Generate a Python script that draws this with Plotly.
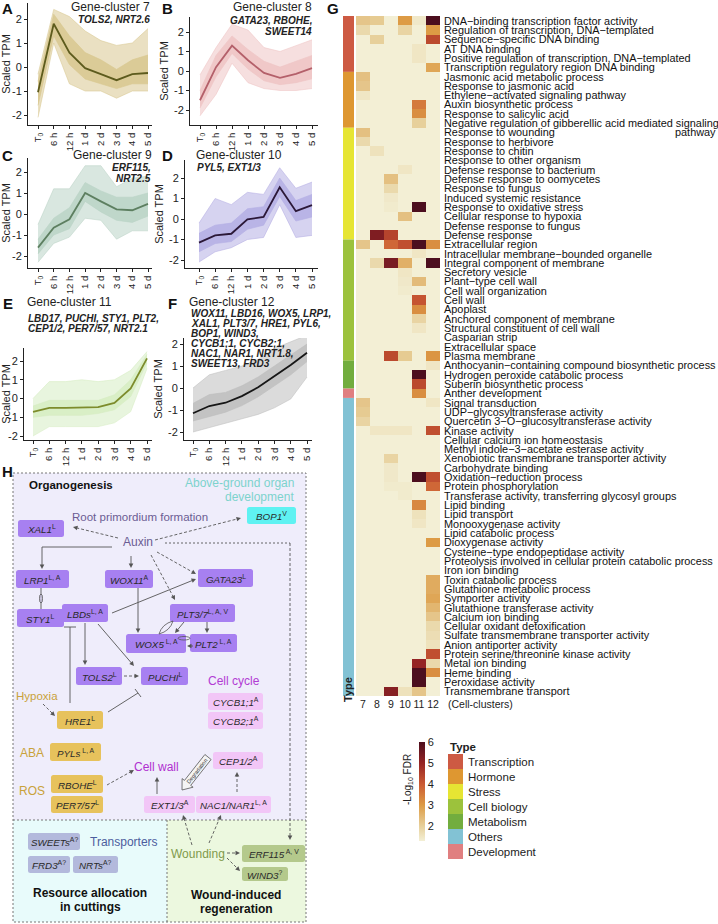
import plotly.graph_objects as go

W, H = 718, 924
FONT = "Liberation Sans, Arial, sans-serif"

# ---------------- DATA: gene-cluster profiles (scaled TPM) ----------------
time_labels = ["T<sub>0</sub>", "6 h", "12 h", "1 d", "2 d", "3 d", "4 d", "5 d"]

c7_mean = [-1.05, 1.8, 0.6, -0.05, -0.3, -0.55, -0.3, -0.25]
c7_lo = [-2.1, 1.0, -0.7, -1.0, -1.0, -1.3, -1.0, -1.0]
c7_hi = [-0.3, 2.4, 2.1, 1.5, 1.1, 0.9, 1.0, 1.6]
c7_core_lo = [-1.6, 1.3, 0.1, -0.5, -0.7, -0.9, -0.7, -0.7]
c7_core_hi = [-0.6, 2.2, 1.3, 0.6, 0.3, -0.1, 0.3, 0.5]

c8_mean = [-1.5, 0.2, 1.3, 0.55, -0.1, -0.35, -0.15, 0.15]
c8_lo = [-2.3, -1.2, 0.4, -0.6, -0.9, -1.0, -1.0, -0.9]
c8_hi = [-0.2, 1.2, 2.4, 2.1, 1.2, 1.0, 1.3, 1.6]
c8_core_lo = [-1.9, -0.3, 0.9, 0.1, -0.5, -0.7, -0.6, -0.4]
c8_core_hi = [-1.0, 0.8, 1.8, 1.1, 0.5, 0.2, 0.5, 0.8]

c9_mean = [-1.6, -0.65, -0.25, 1.0, 0.6, 0.22, 0.18, 0.48]
c9_lo = [-2.3, -1.4, -1.1, -0.2, -0.3, -1.2, -0.8, -0.8]
c9_hi = [-0.5, 1.2, 1.2, 2.3, 2.3, 1.3, 1.7, 1.8]
c9_core_lo = [-1.9, -1.0, -0.7, 0.6, 0.1, -0.3, -0.4, -0.1]
c9_core_hi = [-1.2, -0.2, 0.3, 1.5, 1.1, 0.8, 0.8, 1.0]

c10_mean = [-1.15, -0.8, -0.72, -0.02, 0.1, 1.55, 0.38, 0.68]
c10_lo = [-2.1, -1.6, -1.4, -1.0, -0.9, 0.7, -0.9, -0.8]
c10_hi = [-0.2, 1.0, 0.7, 1.3, 1.2, 2.5, 1.5, 1.8]
c10_core_lo = [-1.6, -1.2, -1.1, -0.5, -0.3, 1.1, -0.1, 0.1]
c10_core_hi = [-0.7, -0.3, -0.2, 0.5, 0.6, 2.0, 0.9, 1.2]

c11_mean = [-0.71, -0.5, -0.5, -0.5, -0.46, -0.23, 0.54, 2.14]
c11_lo = [-2.0, -1.5, -1.5, -1.5, -1.5, -1.3, -0.7, 1.6]
c11_hi = [0.0, 0.9, 0.9, 1.0, 0.9, 1.0, 1.5, 2.5]
c11_core_lo = [-1.0, -0.9, -0.9, -0.9, -0.8, -0.6, 0.1, 1.9]
c11_core_hi = [-0.4, -0.1, -0.1, -0.1, -0.1, 0.2, 1.0, 2.35]

c12_mean = [-1.15, -0.82, -0.67, -0.37, 0.03, 0.52, 1.05, 1.6]
c12_lo = [-2.0, -1.8, -1.6, -1.4, -1.2, -0.9, -0.5, 0.5]
c12_hi = [0.0, 0.6, 0.8, 1.0, 1.3, 1.8, 2.1, 2.4]
c12_core_lo = [-1.5, -1.3, -1.1, -0.8, -0.4, 0.1, 0.6, 1.2]
c12_core_hi = [-0.7, -0.3, -0.2, 0.1, 0.5, 1.0, 1.5, 2.0]

# ---------------- DATA: GO enrichment heatmap ----------------
go_terms = [
    "DNA−binding transcription factor activity",
    "Regulation of transcription, DNA−templated",
    "Sequence−specific DNA binding",
    "AT DNA binding",
    "Positive regulation of transcription, DNA−templated",
    "Transcription regulatory region DNA binding",
    "Jasmonic acid metabolic process",
    "Response to jasmonic acid",
    "Ethylene−activated signaling pathway",
    "Auxin biosynthetic process",
    "Response to salicylic acid",
    "Negative regulation of gibberellic acid mediated signaling",
    "Response to wounding",
    "Response to herbivore",
    "Response to chitin",
    "Response to other organism",
    "Defense response to bacterium",
    "Defense response to oomycetes",
    "Response to fungus",
    "Induced systemic resistance",
    "Response to oxidative stress",
    "Cellular response to hypoxia",
    "Defense response to fungus",
    "Defense response",
    "Extracellular region",
    "Intracellular membrane−bounded organelle",
    "Integral component of membrane",
    "Secretory vesicle",
    "Plant−type cell wall",
    "Cell wall organization",
    "Cell wall",
    "Apoplast",
    "Anchored component of membrane",
    "Structural constituent of cell wall",
    "Casparian strip",
    "Extracellular space",
    "Plasma membrane",
    "Anthocyanin−containing compound biosynthetic process",
    "Hydrogen peroxide catabolic process",
    "Suberin biosynthetic process",
    "Anther development",
    "Signal transduction",
    "UDP−glycosyltransferase activity",
    "Quercetin 3−O−glucosyltransferase activity",
    "Kinase activity",
    "Cellular calcium ion homeostasis",
    "Methyl indole−3−acetate esterase activity",
    "Xenobiotic transmembrane transporter activity",
    "Carbohydrate binding",
    "Oxidation−reduction process",
    "Protein phosphorylation",
    "Transferase activity, transferring glycosyl groups",
    "Lipid binding",
    "Lipid transport",
    "Monooxygenase activity",
    "Lipid catabolic process",
    "Dioxygenase activity",
    "Cysteine−type endopeptidase activity",
    "Proteolysis involved in cellular protein catabolic process",
    "Iron ion binding",
    "Toxin catabolic process",
    "Glutathione metabolic process",
    "Symporter activity",
    "Glutathione transferase activity",
    "Calcium ion binding",
    "Cellular oxidant detoxification",
    "Sulfate transmembrane transporter activity",
    "Anion antiporter activity",
    "Protein serine/threonine kinase activity",
    "Metal ion binding",
    "Heme binding",
    "Peroxidase activity",
    "Transmembrane transport",
]
cell_clusters = ["7", "8", "9", "10", "11", "12"]
FDR_MIN = 1.3
# -log10 FDR per cell-cluster, {row number (1-based): value}; other cells not enriched
fdr_c7 = {1: 2.2, 2: 1.8, 7: 2.3, 8: 2.2, 9: 1.5, 13: 2.3, 14: 1.8, 25: 2.2,
          42: 2.2, 43: 2.1, 44: 1.9}
fdr_c8 = {1: 2.1, 3: 2.0, 15: 1.6, 24: 5.3, 27: 1.8, 45: 1.5}
fdr_c9 = {18: 2.3, 19: 1.8, 20: 1.45, 21: 1.4, 24: 4.4, 25: 3.8, 27: 5.4, 37: 4.3,
          45: 1.5, 48: 1.9, 49: 1.45, 50: 1.45, 51: 1.4, 73: 5.2}
fdr_c10 = {1: 3.0, 2: 1.9, 17: 1.5, 22: 2.3, 25: 4.2, 27: 2.6, 28: 1.5, 29: 1.45,
           30: 1.4, 37: 2.1, 45: 1.5, 51: 1.4, 52: 1.4, 73: 1.6}
fdr_c11 = {1: 1.45, 4: 1.5, 5: 1.5, 10: 3.5, 11: 3.2, 12: 2.0, 21: 6.0, 25: 6.0,
           26: 1.5, 29: 2.4, 31: 4.1, 32: 3.2, 33: 1.9, 34: 1.5, 39: 6.0, 40: 4.3,
           41: 3.2, 50: 6.0, 53: 3.3, 54: 1.6, 55: 1.5, 70: 5.0, 71: 6.0, 72: 6.0, 73: 2.2}
fdr_c12 = {1: 6.0, 2: 3.0, 3: 4.3, 6: 2.8, 25: 3.2, 27: 6.0, 37: 3.1, 38: 1.5,
           42: 1.5, 45: 4.2, 50: 4.2, 51: 3.8, 57: 3.0, 61: 2.7, 62: 2.7, 63: 2.8,
           64: 2.5, 65: 2.2, 66: 1.8, 67: 1.7, 68: 1.6, 69: 4.2, 70: 1.8, 71: 3.2}

type_names = ["Transcription", "Hormone", "Stress", "Cell biology", "Metabolism", "Development", "Others"]
type_counts = [6, 6, 12, 13, 3, 1, 32]
legend_order = ["Transcription", "Hormone", "Stress", "Cell biology", "Metabolism", "Others", "Development"]

# ---------------- styles ----------------
type_colors = {"Transcription": "#cd5a43", "Hormone": "#de9731", "Stress": "#e6e533",
               "Cell biology": "#9cc23c", "Metabolism": "#72ad3e", "Others": "#82c2d4",
               "Development": "#e07f80"}
fdr_scale = [[0.0, "#f3efd5"], [0.149, "#e7d09b"], [0.362, "#dd9b45"],
             [0.574, "#cb5a33"], [0.787, "#952424"], [1.0, "#4c0e1e"]]

def px_x(x):
    return x / W

def px_y(y):
    return 1 - y / H

fig = go.Figure()

# ---------------- Panels A-F ----------------
panels = [
    ("A", c7_mean, c7_lo, c7_hi, c7_core_lo, c7_core_hi, "#5d5b1d", (216, 199, 143), (28, 152, 3, 125, 38, 148, 19, 115)),
    ("B", c8_mean, c8_lo, c8_hi, c8_core_lo, c8_core_hi, "#b4606a", (238, 196, 196), (190, 318, 17, 125, 200, 312, 32, 110)),
    ("C", c9_mean, c9_lo, c9_hi, c9_core_lo, c9_core_hi, "#5d7f60", (186, 211, 198), (28, 152, 158, 268, 38, 148, 172, 256)),
    ("D", c10_mean, c10_lo, c10_hi, c10_core_lo, c10_core_hi, "#2b1838", (180, 174, 228), (185, 318, 160, 268, 199, 312, 178, 260)),
    ("E", c11_mean, c11_lo, c11_hi, c11_core_lo, c11_core_hi, "#7d8c2c", (214, 237, 194), (24, 152, 348, 440, 33, 147, 361, 436)),
    ("F", c12_mean, c12_lo, c12_hi, c12_core_lo, c12_core_hi, "#161616", (190, 190, 190), (184, 312, 338, 440, 193, 307, 344, 432)),
]
idx = list(range(len(time_labels)))
for i, (letter, mean, lo, hi, clo, chi, lc, cc, pos) in enumerate(panels):
    n = i + 1
    xa = "x" if n == 1 else f"x{n}"
    ya = "y" if n == 1 else f"y{n}"
    left, right, top, bottom, t0, t5, y2, ym2 = pos
    step = (t5 - t0) / 7.0
    xr = [(left - t0) / step, (right - t0) / step]
    upx = (ym2 - y2) / 4.0
    yr = [-2 - (bottom - ym2) / upx, 2 + (y2 - top) / upx]
    r, g, b = cc
    fig.add_trace(go.Scatter(x=idx, y=lo, mode="lines", line=dict(width=0.6, color=f"rgba({r},{g},{b},0.9)"),
                             xaxis=xa, yaxis=ya, showlegend=False, hoverinfo="skip"))
    fig.add_trace(go.Scatter(x=idx, y=hi, mode="lines", line=dict(width=0.6, color=f"rgba({r},{g},{b},0.9)"),
                             fill="tonexty", fillcolor=f"rgba({r},{g},{b},0.55)",
                             xaxis=xa, yaxis=ya, showlegend=False, hoverinfo="skip"))
    fig.add_trace(go.Scatter(x=idx, y=clo, mode="lines", line=dict(width=0.6, color=f"rgba({r},{g},{b},1)"),
                             xaxis=xa, yaxis=ya, showlegend=False, hoverinfo="skip"))
    fig.add_trace(go.Scatter(x=idx, y=chi, mode="lines", line=dict(width=0.6, color=f"rgba({r},{g},{b},1)"),
                             fill="tonexty", fillcolor=f"rgba({r},{g},{b},0.85)",
                             xaxis=xa, yaxis=ya, showlegend=False, hoverinfo="skip"))
    fig.add_trace(go.Scatter(x=idx, y=mean, mode="lines", line=dict(width=1.8, color=lc),
                             xaxis=xa, yaxis=ya, showlegend=False))
    xkey = "xaxis" if n == 1 else f"xaxis{n}"
    ykey = "yaxis" if n == 1 else f"yaxis{n}"
    fig.layout[xkey] = dict(domain=[px_x(left), px_x(right)], range=xr, anchor=ya,
                            tickmode="array", tickvals=idx, ticktext=time_labels, tickangle=-90,
                            ticks="outside", ticklen=3, tickcolor="#222", showline=True, linecolor="#222",
                            linewidth=1, showgrid=False, zeroline=False, automargin=False,
                            tickfont=dict(size=9.5, family=FONT, color="#222"))
    fig.layout[ykey] = dict(domain=[px_y(bottom), px_y(top)], range=yr, anchor=xa,
                            tickmode="array", tickvals=[-2, -1, 0, 1, 2], ticktext=["-2", "-1", "0", "1", "2"],
                            ticks="outside", ticklen=3, tickcolor="#222", showline=True, linecolor="#222",
                            linewidth=1, showgrid=False, zeroline=False, automargin=False,
                            tickfont=dict(size=11, family=FONT, color="#222"),
                            title=dict(text="Scaled TPM", font=dict(size=11, family=FONT, color="#222"), standoff=3))

# ---------------- Heatmap G ----------------
cols = [fdr_c7, fdr_c8, fdr_c9, fdr_c10, fdr_c11, fdr_c12]
nrows = len(go_terms)
z = [[cols[c].get(r + 1, FDR_MIN) for c in range(len(cols))] for r in range(nrows)]
fig.add_trace(go.Heatmap(
    z=z, x=list(range(len(cell_clusters))), y=list(range(nrows)),
    zmin=FDR_MIN, zmax=6, colorscale=fdr_scale, xaxis="x7", yaxis="y7",
    hovertext=[[f"{go_terms[r]} / {cell_clusters[c]}" for c in range(6)] for r in range(nrows)],
    colorbar=dict(x=px_x(419), xanchor="left", y=px_y(791.5), yanchor="middle",
                  len=99, lenmode="pixels", thickness=6, thicknessmode="pixels",
                  outlinewidth=0, tickvals=[2, 3, 4, 5, 6], ticks="", ticklen=0,
                  tickfont=dict(size=11, family=FONT, color="#222"), xpad=0, ypad=0)))
fig.layout["xaxis7"] = dict(domain=[px_x(356), px_x(440)], range=[-0.5, 5.5], anchor="y7",
                            tickmode="array", tickvals=list(range(6)), ticktext=cell_clusters,
                            ticks="", showline=False, showgrid=False, zeroline=False, automargin=False,
                            tickfont=dict(size=10.5, family=FONT, color="#222"))
fig.layout["yaxis7"] = dict(domain=[px_y(696), px_y(16)], range=[nrows - 0.5, -0.5], anchor="x7",
                            showticklabels=False, ticks="", showline=False, showgrid=False,
                            zeroline=False, automargin=False)

# ---------------- overlay axis in pixel units ----------------
fig.add_trace(go.Scatter(x=[0], y=[0], mode="markers", marker=dict(opacity=0), xaxis="x8", yaxis="y8",
                         showlegend=False, hoverinfo="skip"))
fig.layout["xaxis8"] = dict(domain=[0, 1], range=[0, W], anchor="y8", visible=False, fixedrange=True)
fig.layout["yaxis8"] = dict(domain=[0, 1], range=[H, 0], anchor="x8", visible=False, fixedrange=True)

shapes = []
annotations = []

def text(x, y, s, size=11, color="#222", xanchor="center", bold=False, italic=False, angle=0,
         yanchor="middle", yref="y8"):
    if italic:
        s = f"<i>{s}</i>"
    if bold:
        s = f"<b>{s}</b>"
    annotations.append(dict(x=x, y=y, xref="x8", yref=yref, text=s, showarrow=False,
                            xanchor=xanchor, yanchor=yanchor, textangle=angle, borderpad=0,
                            font=dict(size=size, color=color, family=FONT)))

# GO term labels, placed on the heatmap's row scale
for r, term in enumerate(go_terms):
    text(443, r, term, size=10.9, color="#111", xanchor="left", yref="y7")
text(717, 12, "pathway", size=10.9, color="#111", xanchor="right", yref="y7")

# panel letters
for L, x, y in [("A", 7, 8), ("B", 167, 8), ("C", 7, 155), ("D", 167, 155), ("E", 8, 303),
                ("F", 172, 303), ("G", 333, 8), ("H", 7, 471)]:
    text(x, y, L, size=15, bold=True, color="#111")

# panel titles and gene names
text(151, 7, "Gene-cluster 7", size=12, xanchor="right")
text(151, 19, "TOLS2, NRT2.6", size=10, xanchor="right", bold=True, italic=True)
text(313, 7, "Gene-cluster 8", size=12, xanchor="right")
text(313, 20, "GATA23, RBOHE,", size=10, xanchor="right", bold=True, italic=True)
text(313, 31, "SWEET14", size=10, xanchor="right", bold=True, italic=True)
text(153, 155, "Gene-cluster 9", size=12, xanchor="right")
text(152, 167, "ERF115,", size=10, xanchor="right", bold=True, italic=True)
text(152, 178, "NRT2.5", size=10, xanchor="right", bold=True, italic=True)
text(195, 155, "Gene-cluster 10", size=12, xanchor="left")
text(196, 167, "PYL5, EXT1/3", size=10, xanchor="left", bold=True, italic=True)
text(26, 302, "Gene-cluster 11", size=12, xanchor="left")
for k, line in enumerate(["LBD17, PUCHI, STY1, PLT2,", "CEP1/2, PER7/57, NRT2.1"]):
    text(27, 318 + 10 * k, line, size=10, xanchor="left", bold=True, italic=True)
text(188, 302, "Gene-cluster 12", size=12, xanchor="left")
for k, line in enumerate(["WOX11, LBD16, WOX5, LRP1,", "XAL1, PLT3/7, HRE1, PYL6,", "BOP1, WIND3,",
                          "CYCB1;1, CYCB2;1,", "NAC1, NAR1, NRT1.8,", "SWEET13, FRD3"]):
    text(190, 313 + 10 * k, line, size=10, xanchor="left", bold=True, italic=True)

# heatmap extras
text(447, 704, "(Cell-clusters)", size=10.5, xanchor="left")
text(348, 690, "Type", size=11, bold=True, angle=-90)
text(408, 780, "-Log<sub>10</sub> FDR", size=10, angle=-90)

# type bar using the heatmap row scale
start = 0
for name, cnt in zip(type_names, type_counts):
    shapes.append(dict(type="rect", xref="x8", yref="y7", x0=343, x1=354, y0=start - 0.5, y1=start + cnt - 0.5,
                       fillcolor=type_colors[name], line=dict(width=0), layer="above"))
    start += cnt

# type legend
text(449, 747, "Type", size=11.5, bold=True, xanchor="left")
for k, name in enumerate(legend_order):
    y0 = 754 + 15 * k
    shapes.append(dict(type="rect", xref="x8", yref="y8", x0=448, x1=463, y0=y0, y1=y0 + 15,
                       fillcolor=type_colors[name], line=dict(width=0)))
    text(467, y0 + 7.5, name, size=11.5, xanchor="left")

# ---------------- Panel H (diagram) ----------------
DOT = dict(color="#777", width=1, dash="2px,2px")
shapes.append(dict(type="rect", xref="x8", yref="y8", x0=13, x1=306, y0=473, y1=820,
                   fillcolor="#efedfb", line=dict(width=0), layer="below"))
shapes.append(dict(type="rect", xref="x8", yref="y8", x0=13, x1=167, y0=820, y1=922,
                   fillcolor="#e8fbfb", line=dict(width=0), layer="below"))
shapes.append(dict(type="rect", xref="x8", yref="y8", x0=167, x1=306, y0=820, y1=922,
                   fillcolor="#ecf8df", line=dict(width=0), layer="below"))
shapes.append(dict(type="rect", xref="x8", yref="y8", x0=13, x1=306, y0=473, y1=922,
                   fillcolor="rgba(0,0,0,0)", line=DOT))
shapes.append(dict(type="line", xref="x8", yref="y8", x0=13, x1=306, y0=820, y1=820, line=DOT))
shapes.append(dict(type="line", xref="x8", yref="y8", x0=167, x1=167, y0=820, y1=922, line=DOT))

def rrect(x0, y0, x1, y1, r=2.5):
    return (f"M{x0+r},{y0} L{x1-r},{y0} Q{x1},{y0} {x1},{y0+r} L{x1},{y1-r} Q{x1},{y1} {x1-r},{y1} "
            f"L{x0+r},{y1} Q{x0},{y1} {x0},{y1-r} L{x0},{y0+r} Q{x0},{y0} {x0+r},{y0} Z")

PUR, CYA, GOLD, PINK, BLU, OLV = "#a780f1", "#5ff2f2", "#e7c25c", "#f2c6f7", "#b3b9dc", "#b4c98c"
boxes = [
    ("BOP1", "V", 247, 507, 296, 524, CYA),
    ("XAL1", "L", 18, 520, 64, 537, PUR),
    ("LRP1", "L, A", 16, 570, 69, 588, PUR),
    ("WOX11", "A", 105, 570, 153, 588, PUR),
    ("GATA23", "L", 198, 569, 253, 587, PUR),
    ("STY1", "L", 17, 609, 64, 627, PUR),
    ("LBDs", "L, A", 62, 604, 108, 622, PUR),
    ("PLT3/7", "L, A, V", 170, 604, 235, 622, PUR),
    ("WOX5", " L, A", 126, 634, 186, 653, PUR),
    ("PLT2", " L, A", 190, 634, 237, 652, PUR),
    ("TOLS2", "L", 76, 667, 122, 685, PUR),
    ("PUCHI", "L", 141, 667, 188, 685, PUR),
    ("CYCB1;1", "A", 208, 693, 263, 710, PINK),
    ("CYCB2;1", "A", 208, 712, 263, 729, PINK),
    ("HRE1", "L", 57, 711, 103, 729, GOLD),
    ("PYLs", " L, A", 50, 743, 101, 761, GOLD),
    ("CEP1/2", "A", 213, 752, 263, 769, PINK),
    ("RBOHE", "L", 51, 775, 103, 793, GOLD),
    ("PER7/57", "L", 51, 796, 103, 813, GOLD),
    ("EXT1/3", "A", 144, 796, 195, 813, PINK),
    ("NAC1/NAR1", "L, A", 196, 796, 271, 813, PINK),
    ("SWEETs", "A?", 28, 833, 80, 850, BLU),
    ("FRD3", "A?", 28, 856, 70, 873, BLU),
    ("NRTs", "A?", 73, 856, 118, 873, BLU),
    ("ERF115", " A, V", 242, 845, 305, 862, OLV),
    ("WIND3", "?", 242, 867, 288, 881, OLV),
]
for name, sup, x0, y0, x1, y1, col in boxes:
    shapes.append(dict(type="path", xref="x8", yref="y8", path=rrect(x0, y0, x1, y1),
                       fillcolor=col, line=dict(width=0)))
    text((x0 + x1) / 2, (y0 + y1) / 2 + 0.5, f"<i>{name}</i><sup>{sup}</sup>", size=9.8, color="#2a2a2a")

# region labels
text(28, 485, "Organogenesis", size=11.5, bold=True, xanchor="left", color="#111")
text(295, 483, "Above-ground organ", size=12, xanchor="right", color="#7dd3cd")
text(295, 497, "development", size=12, xanchor="right", color="#7dd3cd")
text(140, 517, "Root primordium formation", size=11.5, color="#6b5c93")
text(138, 542, "Auxin", size=12, color="#6b5c93")
text(234, 681, "Cell cycle", size=12, color="#b23bd4")
text(37, 696, "Hypoxia", size=11.5, color="#c9a23a")
text(32, 753, "ABA", size=12, color="#c9a23a")
text(32, 791, "ROS", size=12, color="#c9a23a")
text(156, 767, "Cell wall", size=12, color="#b02fd0")
text(124, 842, "Transporters", size=12, color="#4d5d9e")
text(90, 893, "Resource allocation", size=12, bold=True, color="#111")
text(90, 907, "in cuttings", size=12, bold=True, color="#111")
text(198, 854, "Wounding", size=12, color="#7f9a4b")
text(236, 895, "Wound-induced", size=12, bold=True, color="#111")
text(236, 909, "regeneration", size=12, bold=True, color="#111")

ACOL = "#555"

def seg(x0, y0, x1, y1, dash=None):
    ln = dict(color=ACOL, width=0.9)
    if dash:
        ln["dash"] = dash
    shapes.append(dict(type="line", xref="x8", yref="y8", x0=x0, y0=y0, x1=x1, y1=y1, line=ln))

def arrow(x0, y0, x1, y1, dashed=False):
    dx, dy = x1 - x0, y1 - y0
    L = (dx * dx + dy * dy) ** 0.5
    ux, uy = dx / L, dy / L
    nx, ny = -uy, ux
    hl, hw = 4.5, 2.3
    bx, by = x1 - hl * ux, y1 - hl * uy
    seg(x0, y0, bx + 0.5 * ux, by + 0.5 * uy, dash="3px,2px" if dashed else None)
    shapes.append(dict(type="path", xref="x8", yref="y8",
                       path=f"M{x1:.2f},{y1:.2f} L{bx + hw*nx:.2f},{by + hw*ny:.2f} L{bx - hw*nx:.2f},{by - hw*ny:.2f} Z",
                       fillcolor=ACOL, line=dict(width=0)))

# solid arrows
seg(112, 547, 42, 547)
arrow(42, 547, 42, 569)
arrow(131, 556, 131, 568)
arrow(138, 588, 138, 633)
arrow(112, 613, 196, 579)
arrow(85, 623, 85, 665)
arrow(98, 624, 134, 666)
arrow(207, 622, 207, 633)
arrow(184, 622, 175, 633)
arrow(193, 646, 187, 646)
arrow(157, 794, 157, 777)
# inhibition
seg(70, 627, 70, 703)
seg(64, 627, 76, 627)
seg(108, 712, 138, 693)
seg(135, 689, 141, 697)
# connectors
seg(41, 588, 41, 609)
shapes.append(dict(type="circle", xref="x8", yref="y8", x0=39.5, x1=42.5, y0=594, y1=603,
                   fillcolor="#c9c4dc", line=dict(color=ACOL, width=0.8)))
shapes.append(dict(type="circle", xref="x8", yref="y8", x0=178, x1=190, y0=636.5, y1=640,
                   fillcolor="rgba(0,0,0,0)", line=dict(color=ACOL, width=0.8)))
shapes.append(dict(type="path", xref="x8", yref="y8",
                   path="M159,634 Q162,624 173,621 Q170,631 159,634 Z",
                   fillcolor="rgba(0,0,0,0)", line=dict(color=ACOL, width=0.8)))
# dashed arrows
arrow(118, 538, 73, 527, dashed=True)
arrow(155, 540, 241, 518, dashed=True)
arrow(157, 552, 196, 574, dashed=True)
arrow(151, 555, 175, 600, dashed=True)
arrow(124, 676, 139, 676, dashed=True)
arrow(43, 704, 55, 716, dashed=True)
arrow(107, 785, 134, 770, dashed=True)
arrow(237, 792, 237, 772, dashed=True)
arrow(192, 845, 183, 815, dashed=True)
arrow(209, 843, 221, 815, dashed=True)
arrow(227, 853, 240, 853, dashed=True)
arrow(227, 858, 240, 871, dashed=True)
seg(165, 543, 290, 543, dash="2px,2px")
arrow(290, 543, 290, 840, dashed=True)

# degradation hollow arrow
shapes.append(dict(type="path", xref="x8", yref="y8",
                   path="M211.1,759.5 L190.7,785.4 L193.1,787.2 L182,790 L182.1,778.6 L184.5,780.4 L204.9,754.5 Z",
                   fillcolor="#f4f4f4", line=dict(color="#555", width=0.8)))
text(197, 771, "Degradation", size=5.5, angle=-52, color="#333")

fig.update_layout(
    width=W, height=H, margin=dict(l=0, r=0, t=0, b=0),
    paper_bgcolor="white", plot_bgcolor="rgba(0,0,0,0)", template="none",
    showlegend=False, shapes=shapes, annotations=annotations,
    font=dict(family=FONT, size=11, color="#222"),
)

fig.write_html("out.html", config={"displayModeBar": False},
               post_script="document.body.style.margin='0px';document.body.style.overflow='hidden';")
